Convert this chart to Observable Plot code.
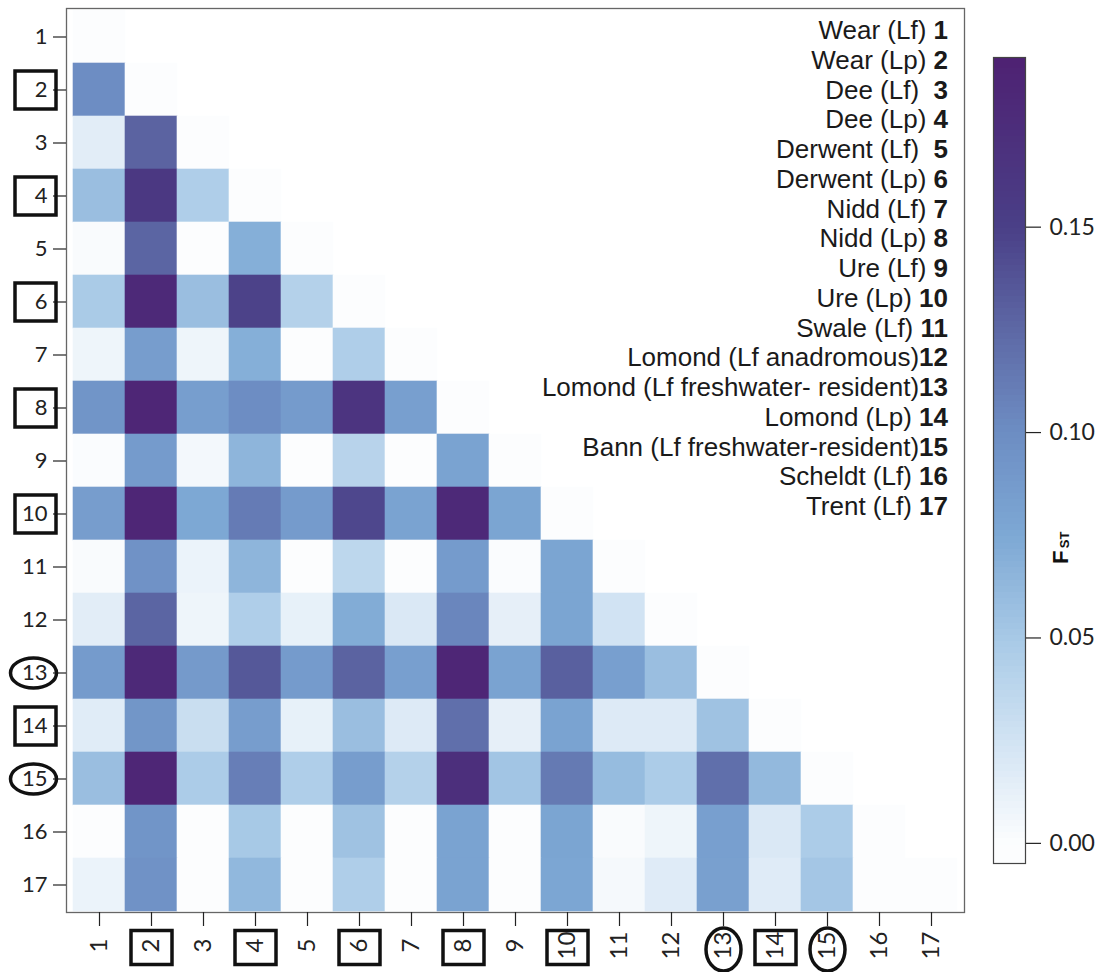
<!DOCTYPE html>
<html>
<head>
<meta charset="utf-8">
<script src="https://cdn.jsdelivr.net/npm/d3@7"></script>
<script src="https://cdn.jsdelivr.net/npm/@observablehq/plot@0.6"></script>
<style>
  body { margin: 0; background: #fff; }
  #wrap { position: relative; width: 1114px; height: 972px; }
  #wrap svg { position: absolute; top: 0; overflow: visible; }
  #names { position: absolute; top: 16px; right: 166px; text-align: right; white-space: pre;
           font-family: "Liberation Sans", Arial, sans-serif; font-size: 26px; line-height: 29.75px; color: #1a1a1a; }
  #names b { font-weight: bold; }
</style>
</head>
<body>
<div id="wrap"><div id="names"></div></div>
<script>
// population ids (tick labels) and names
const ids = d3.range(1, 18);
const popNames = [
  "Wear (Lf) ", "Wear (Lp) ", "Dee (Lf)  ", "Dee (Lp) ", "Derwent (Lf)  ", "Derwent (Lp) ",
  "Nidd (Lf) ", "Nidd (Lp) ", "Ure (Lf) ", "Ure (Lp) ", "Swale (Lf) ", "Lomond (Lf anadromous)",
  "Lomond (Lf freshwater- resident)", "Lomond (Lp) ", "Bann (Lf freshwater-resident)", "Scheldt (Lf) ", "Trent (Lf) "
];
const boxedIds = [2, 4, 6, 8, 10, 14];
const circledIds = [13, 15];

// pairwise FST, lower triangle: row i holds columns 1..i-1
const fstRow2  = [0.100];
const fstRow3  = [0.015, 0.128];
const fstRow4  = [0.058, 0.160, 0.045];
const fstRow5  = [0.002, 0.127, 0.000, 0.070];
const fstRow6  = [0.048, 0.180, 0.058, 0.148, 0.042];
const fstRow7  = [0.008, 0.085, 0.008, 0.070, 0.000, 0.045];
const fstRow8  = [0.093, 0.185, 0.084, 0.100, 0.087, 0.165, 0.083];
const fstRow9  = [0.001, 0.087, 0.005, 0.065, 0.000, 0.040, 0.000, 0.080];
const fstRow10 = [0.085, 0.185, 0.075, 0.112, 0.087, 0.145, 0.080, 0.180, 0.078];
const fstRow11 = [0.002, 0.095, 0.010, 0.065, 0.000, 0.037, 0.000, 0.087, 0.001, 0.078];
const fstRow12 = [0.015, 0.127, 0.008, 0.045, 0.012, 0.072, 0.020, 0.105, 0.013, 0.078, 0.025];
const fstRow13 = [0.087, 0.180, 0.088, 0.135, 0.087, 0.128, 0.083, 0.185, 0.080, 0.130, 0.083, 0.058];
const fstRow14 = [0.016, 0.092, 0.030, 0.085, 0.012, 0.058, 0.018, 0.120, 0.013, 0.080, 0.018, 0.018, 0.055];
const fstRow15 = [0.058, 0.185, 0.047, 0.110, 0.045, 0.085, 0.042, 0.172, 0.053, 0.113, 0.060, 0.047, 0.120, 0.062];
const fstRow16 = [0.000, 0.093, 0.000, 0.050, 0.000, 0.055, 0.000, 0.080, 0.000, 0.078, 0.002, 0.008, 0.083, 0.020, 0.047];
const fstRow17 = [0.010, 0.095, 0.000, 0.063, 0.000, 0.045, 0.000, 0.080, 0.000, 0.077, 0.004, 0.017, 0.082, 0.017, 0.052, 0.000];
const legendTicks = [0, 0.05, 0.10, 0.15];

const rows = [[], fstRow2, fstRow3, fstRow4, fstRow5, fstRow6, fstRow7, fstRow8, fstRow9, fstRow10,
  fstRow11, fstRow12, fstRow13, fstRow14, fstRow15, fstRow16, fstRow17];
const cells = [];
rows.forEach((vals, i) => {
  vals.forEach((v, j) => cells.push({row: i + 1, col: j + 1, v}));
  cells.push({row: i + 1, col: i + 1, v: 0}); // diagonal
});

const colorScale = {
  type: "linear",
  domain: [0, 0.025, 0.05, 0.075, 0.10, 0.125, 0.15, 0.19],
  range: ["#fcfdfe", "#d1e3f3", "#a7c9e6", "#7da8d4", "#6d8dc3", "#5d68a5", "#4a3f87", "#4e2273"],
  interpolate: "rgb",
  clamp: true
};

function boxSymbol(w, h) {
  return {draw(ctx) {
    ctx.moveTo(-w / 2, -h / 2); ctx.lineTo(w / 2, -h / 2); ctx.lineTo(w / 2, h / 2);
    ctx.lineTo(-w / 2, h / 2); ctx.closePath();
  }};
}
function ellipseSymbol(rx, ry) {
  const k = 0.5523;
  return {draw(ctx) {
    ctx.moveTo(rx, 0);
    ctx.bezierCurveTo(rx, k * ry, k * rx, ry, 0, ry);
    ctx.bezierCurveTo(-k * rx, ry, -rx, k * ry, -rx, 0);
    ctx.bezierCurveTo(-rx, -k * ry, -k * rx, -ry, 0, -ry);
    ctx.bezierCurveTo(k * rx, -ry, rx, -k * ry, rx, 0);
    ctx.closePath();
  }};
}

const main = Plot.plot({
  width: 1114, height: 972,
  marginLeft: 66, marginRight: 150, marginTop: 8, marginBottom: 60,
  x: {type: "band", domain: ids, padding: 0, axis: null},
  y: {type: "band", domain: ids, padding: 0, axis: null},
  color: colorScale,
  style: {fontFamily: "Lato, sans-serif", fontSize: "22px", color: "#222", background: "transparent"},
  marks: [
    Plot.cell(cells, {x: "col", y: "row", fill: "v", inset: -0.3}),
    Plot.frame({stroke: "#666", strokeWidth: 1.3}),
    Plot.axisX({anchor: "bottom", tickSize: 14, tickPadding: 19, tickRotate: -90, textAnchor: "middle", label: null, fontSize: 24, strokeWidth: 1.2}),
    Plot.axisY({anchor: "left", tickSize: 13, tickPadding: 6, label: null, fontSize: 22, strokeWidth: 1.2}),
    Plot.dot(boxedIds, {y: d => d, frameAnchor: "left", dx: -31, symbol: boxSymbol(41, 38), fill: "none", stroke: "#111", strokeWidth: 3.5}),
    Plot.dot(circledIds, {y: d => d, frameAnchor: "left", dx: -33, symbol: ellipseSymbol(23, 15), fill: "none", stroke: "#111", strokeWidth: 3.5}),
    Plot.dot(boxedIds, {x: d => d, frameAnchor: "bottom", dy: 35, symbol: boxSymbol(41, 34), fill: "none", stroke: "#111", strokeWidth: 3.5}),
    Plot.dot(circledIds, {x: d => d, frameAnchor: "bottom", dy: 37, symbol: ellipseSymbol(17.5, 21.5), fill: "none", stroke: "#111", strokeWidth: 3.5})
  ]
});
main.style.left = "0px";

const lo = -0.0049, hi = 0.1913, step = 0.0015;
const ramp = d3.range(lo, hi, step);
const legend = Plot.plot({
  width: 154, height: 972,
  marginLeft: 33, marginRight: 89, marginTop: 57, marginBottom: 109,
  y: {domain: [lo, hi], axis: null},
  color: colorScale,
  style: {fontFamily: "Lato, sans-serif", fontSize: "23px", color: "#222", background: "transparent"},
  marks: [
    Plot.rectY(ramp, {y1: d => d, y2: d => Math.min(hi, d + step * 1.6), fill: d => d + step / 2, shapeRendering: "crispEdges"}),
    Plot.frame({stroke: "#444", strokeWidth: 1.2}),
    Plot.axisY(legendTicks, {anchor: "right", tickSize: 15, tickPadding: 9, tickFormat: d3.format(".2f"), label: null, fontSize: 23, strokeWidth: 1.2}),
    Plot.text(["F"], {frameAnchor: "right", dx: 35, dy: 90, rotate: -90, fontWeight: "bold", fontSize: 22, fontFamily: "Liberation Sans, Arial, sans-serif", fill: "#111"}),
    Plot.text(["ST"], {frameAnchor: "right", dx: 39, dy: 71, rotate: -90, fontWeight: "bold", fontSize: 13, fontFamily: "Liberation Sans, Arial, sans-serif", fill: "#111"})
  ]
});
legend.style.left = "960px";

const wrap = document.getElementById("wrap");
wrap.insertBefore(main, wrap.firstChild);
wrap.insertBefore(legend, wrap.firstChild.nextSibling);

const namesDiv = document.getElementById("names");
namesDiv.innerHTML = popNames.map((n, i) => `<div>${n}<b>${ids[i]}</b></div>`).join("");
</script>
</body>
</html>
